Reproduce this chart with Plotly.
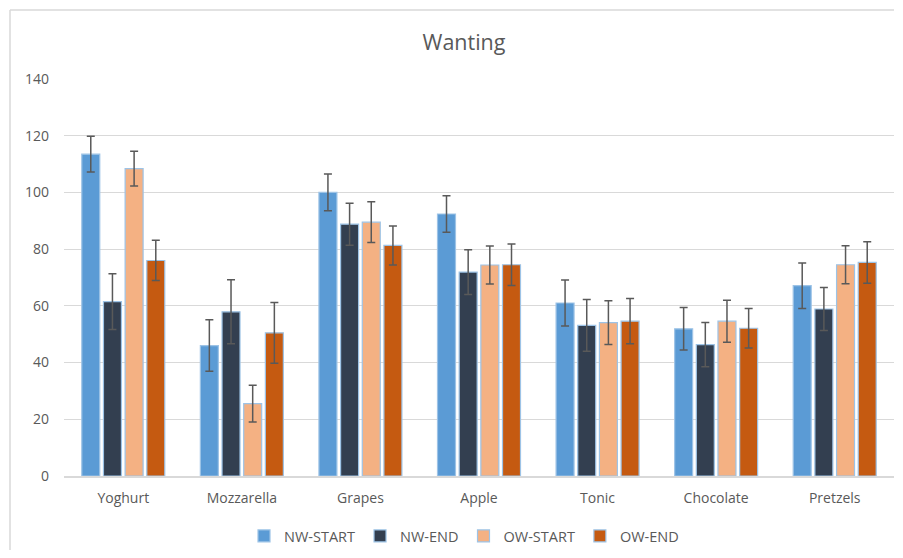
import plotly.graph_objects as go

categories = ["Yoghurt", "Mozzarella", "Grapes", "Apple", "Tonic", "Chocolate", "Pretzels"]
series_names = ["NW-START", "NW-END", "OW-START", "OW-END"]

nw_start = [113.5, 46.0, 100.0, 92.4, 61.0, 51.9, 67.1]
nw_end = [61.5, 57.9, 88.8, 71.9, 53.1, 46.3, 58.9]
ow_start = [108.4, 25.5, 89.5, 74.4, 54.1, 54.6, 74.5]
ow_end = [76.0, 50.5, 81.3, 74.5, 54.6, 52.1, 75.3]

nw_start_err = [6.3, 9.1, 6.5, 6.4, 8.1, 7.5, 8.0]
nw_end_err = [9.8, 11.3, 7.4, 7.9, 9.1, 7.8, 7.6]
ow_start_err = [6.1, 6.5, 7.2, 6.7, 7.7, 7.4, 6.7]
ow_end_err = [7.1, 10.7, 6.9, 7.3, 8.0, 7.0, 7.3]

y_ticks = [0, 20, 40, 60, 80, 100, 120, 140]

colors = ["#5B9BD5", "#333F50", "#F4B183", "#C55A11"]
values = [nw_start, nw_end, ow_start, ow_end]
errors = [nw_start_err, nw_end_err, ow_start_err, ow_end_err]

OFF = 8  # page body margin
W, H = 903 - 2 * OFF, 558 - 2 * OFF
L, R, T, B = 64 - OFF, 1, 79 - OFF, 82 - OFF
pw, ph = W - L - R, H - T - B

fig = go.Figure()
for name, col, vals, errs in zip(series_names, colors, values, errors):
    fig.add_trace(go.Bar(
        name=name, x=categories, y=vals,
        marker=dict(color=col, line=dict(color="#9DC3E6", width=1.2)),
        error_y=dict(type="data", array=errs, visible=True,
                     color="#595959", thickness=1.5, width=4),
    ))

# chart area border (left and top edges visible)
bx = (10 - 64) / pw
by = (476 - 10) / ph
fig.add_shape(type="line", xref="paper", yref="paper", x0=bx, x1=bx, y0=by, y1=-0.25,
              line=dict(color="#D9D9D9", width=1.5))
fig.add_shape(type="line", xref="paper", yref="paper", x0=bx, x1=1.0, y0=by, y1=by,
              line=dict(color="#D9D9D9", width=1.5))

fig.update_layout(
    width=W, height=H,
    margin=dict(l=L, r=R, t=T, b=B),
    paper_bgcolor="white", plot_bgcolor="white",
    barmode="group", bargap=0.269, bargroupgap=0.17,
    font=dict(family="Open Sans", color="#595959", size=14),
    title=dict(text="Wanting", x=(464 - OFF) / W, xanchor="center", xref="container",
               y=1 - (42 - OFF) / H, yanchor="middle", yref="container",
               font=dict(size=21.5, color="#595959", family="Open Sans")),
    showlegend=True,
    legend=dict(orientation="h", x=(464 - OFF) / W, xanchor="center", xref="container",
                y=1 - (536 - OFF) / H, yanchor="middle", yref="container",
                font=dict(size=14.5, color="#595959"), traceorder="normal",
                itemwidth=30),
    xaxis=dict(showgrid=False, showline=True, linecolor="#D9D9D9", linewidth=1.5,
               ticks="", ticklabelstandoff=8, tickfont=dict(size=14, color="#595959")),
    yaxis=dict(range=[0, 140], tickvals=y_ticks, showgrid=True, gridcolor="#D9D9D9",
               gridwidth=1, zeroline=False, showline=False, ticks="",
               ticklabelstandoff=14, tickfont=dict(size=14, color="#595959")),
)

fig.write_html("out.html")
